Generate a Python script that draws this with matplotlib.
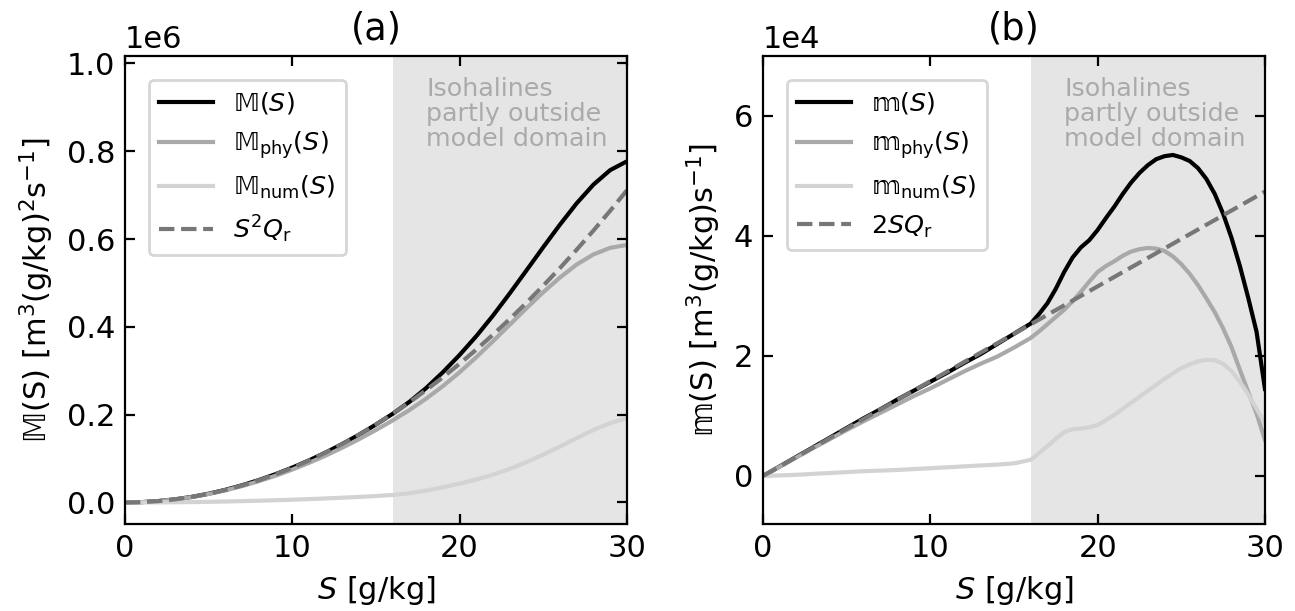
import numpy as np
import matplotlib
matplotlib.use("Agg")
import matplotlib.pyplot as plt

# Salinity grids [g/kg]
S_a = list(range(31))
S_b = [0, 1, 2, 3, 4, 5, 6, 7, 8, 9, 10, 11, 12, 13, 14, 15, 16,
       16.5, 17, 17.5, 18, 18.5, 19, 19.5, 20, 20.5, 21, 21.5, 22, 22.5, 23, 23.5,
       24, 24.5, 25, 25.5, 26, 26.5, 27, 27.5, 28, 28.5, 29, 29.5, 30]

# Panel (a): integrated mixing M(S), values in 1e6 m^3 (g/kg)^2 s^-1
M_total = [0.0, 0.0008, 0.0032, 0.0072, 0.0128, 0.0200, 0.0288, 0.0392, 0.0511, 0.0645,
           0.0795, 0.0959, 0.1139, 0.1335, 0.1546, 0.1775, 0.2020, 0.2292, 0.2606, 0.2966,
           0.3360, 0.3789, 0.4259, 0.4764, 0.5288, 0.5815, 0.6330, 0.6815, 0.7240, 0.7570, 0.7770]
M_phy = [0.0, 0.0008, 0.0031, 0.0070, 0.0124, 0.0193, 0.0277, 0.0374, 0.0485, 0.0610,
         0.0749, 0.0902, 0.1068, 0.1250, 0.1444, 0.1650, 0.1870, 0.2105, 0.2365, 0.2650,
         0.2965, 0.3310, 0.3675, 0.4050, 0.4425, 0.4790, 0.5125, 0.5420, 0.5650, 0.5800, 0.5866]
M_num = [0.0, 0.00005, 0.0002, 0.0005, 0.0009, 0.0015, 0.0022, 0.0031, 0.0040, 0.0051,
         0.0063, 0.0077, 0.0092, 0.0109, 0.0127, 0.0147, 0.0171, 0.0210, 0.0271, 0.0347,
         0.0429, 0.0523, 0.0635, 0.0767, 0.0919, 0.1090, 0.1275, 0.1467, 0.1651, 0.1807, 0.1919]
M_ref = [0.0, 0.00079, 0.00316, 0.00711, 0.01264, 0.01975, 0.02844, 0.03871, 0.05056, 0.06399,
         0.07900, 0.09559, 0.11376, 0.13351, 0.15484, 0.17775, 0.20224, 0.22831, 0.25596, 0.28519,
         0.31600, 0.34839, 0.38236, 0.41791, 0.45504, 0.49375, 0.53404, 0.57591, 0.61936, 0.66439, 0.71100]

# Panel (b): mixing per salinity class m(S), values in 1e4 m^3 (g/kg) s^-1
m_total = [0.0, 0.16, 0.32, 0.48, 0.64, 0.80, 0.96, 1.11, 1.27, 1.42,
           1.57, 1.72, 1.88, 2.03, 2.20, 2.37, 2.54,
           2.70, 2.88, 3.12, 3.40, 3.64, 3.81, 3.93, 4.10, 4.30, 4.49, 4.70, 4.89, 5.05, 5.18, 5.28,
           5.33, 5.35, 5.31, 5.25, 5.13, 4.95, 4.70, 4.37, 3.97, 3.50, 2.97, 2.40, 1.45]
m_phy = [0.0, 0.155, 0.31, 0.465, 0.615, 0.765, 0.91, 1.05, 1.19, 1.33,
         1.46, 1.60, 1.74, 1.87, 1.99, 2.14, 2.30,
         2.41, 2.53, 2.65, 2.77, 2.91, 3.07, 3.24, 3.40, 3.50, 3.58, 3.67, 3.74, 3.78, 3.80, 3.79,
         3.75, 3.66, 3.53, 3.37, 3.18, 2.96, 2.73, 2.46, 2.15, 1.77, 1.40, 1.04, 0.60]
m_num = [0.0, 0.01, 0.02, 0.035, 0.05, 0.065, 0.08, 0.09, 0.10, 0.115,
         0.13, 0.145, 0.16, 0.175, 0.19, 0.21, 0.27,
         0.38, 0.50, 0.62, 0.73, 0.78, 0.79, 0.81, 0.85, 0.93, 1.02, 1.12, 1.22, 1.32, 1.42, 1.52,
         1.62, 1.71, 1.80, 1.86, 1.91, 1.935, 1.93, 1.87, 1.75, 1.57, 1.36, 1.12, 0.88]
m_ref = [0.0, 0.158, 0.316, 0.474, 0.632, 0.790, 0.948, 1.106, 1.264, 1.422,
         1.580, 1.738, 1.896, 2.054, 2.212, 2.370, 2.528,
         2.607, 2.686, 2.765, 2.844, 2.923, 3.002, 3.081, 3.160, 3.239, 3.318, 3.397, 3.476, 3.555,
         3.634, 3.713, 3.792, 3.871, 3.950, 4.029, 4.108, 4.187, 4.266, 4.345, 4.424, 4.503,
         4.582, 4.661, 4.740]

labels_a = ['\U0001D544$(S)$', '\U0001D544$_{\\rm phy}(S)$', '\U0001D544$_{\\rm num}(S)$', r'$S^2Q_{\rm r}$']
labels_b = ['\U0001D55E$(S)$', '\U0001D55E$_{\\rm phy}(S)$', '\U0001D55E$_{\\rm num}(S)$', r'$2SQ_{\rm r}$']
titles = ['(a)', '(b)']
ylabels = ['\U0001D544(S) [m$^3$(g/kg)$^2$s$^{-1}$]', '\U0001D55E(S) [m$^3$(g/kg)s$^{-1}$]']
note = 'Isohalines\npartly outside\nmodel domain'

plt.rcParams['mathtext.fontset'] = 'dejavusans'
plt.rcParams['font.family'] = ['DejaVu Sans']
plt.rcParams['font.size'] = 11
fig = plt.figure(figsize=(6.475, 3.055), dpi=200)
axa = fig.add_axes([0.0965, 0.1424, 0.3876, 0.7660])
axb = fig.add_axes([0.5892, 0.1424, 0.3876, 0.7660])

series = [
    (axa, np.array(S_a, float),
     [np.array(M_total) * 1e6, np.array(M_phy) * 1e6, np.array(M_num) * 1e6, np.array(M_ref) * 1e6],
     labels_a, (-0.049e6, 1.017e6), [0, 0.2e6, 0.4e6, 0.6e6, 0.8e6, 1.0e6]),
    (axb, np.array(S_b, float),
     [np.array(m_total) * 1e4, np.array(m_phy) * 1e4, np.array(m_num) * 1e4, np.array(m_ref) * 1e4],
     labels_b, (-0.8e4, 7.0e4), [0, 2e4, 4e4, 6e4]),
]
styles = [dict(color='k', lw=1.5, ls='-'),
          dict(color='#a9a9a9', lw=1.5, ls='-'),
          dict(color='#d3d3d3', lw=1.5, ls='-'),
          dict(color='#777777', lw=1.5, ls='--')]

for i, (ax, x, ys, labs, ylim, yt) in enumerate(series):
    ax.axvspan(16, 30, color='#e5e5e5', lw=0, zorder=0)
    for y, lab, st in zip(ys, labs, styles):
        ax.plot(x, y, label=lab, **st)
    ax.set_xlim(0, 30)
    ax.set_ylim(*ylim)
    ax.set_xticks([0, 10, 20, 30])
    ax.set_yticks(yt)
    ax.ticklabel_format(axis='y', style='sci', scilimits=(0, 0))
    ax.tick_params(direction='in', top=True, right=True)
    ax.set_xlabel(r'$S$ [g/kg]')
    ax.set_ylabel(ylabels[i])
    ax.set_title(titles[i])
    ax.text(18.0, 0.955, note, transform=ax.get_xaxis_transform(), color='#aaaaaa',
            fontsize='small', va='top', ha='left', linespacing=1.05)
    ax.legend(loc='upper left', borderaxespad=0.95, fontsize='small', handlelength=2.1)

fig.savefig('out.png', dpi=200)
